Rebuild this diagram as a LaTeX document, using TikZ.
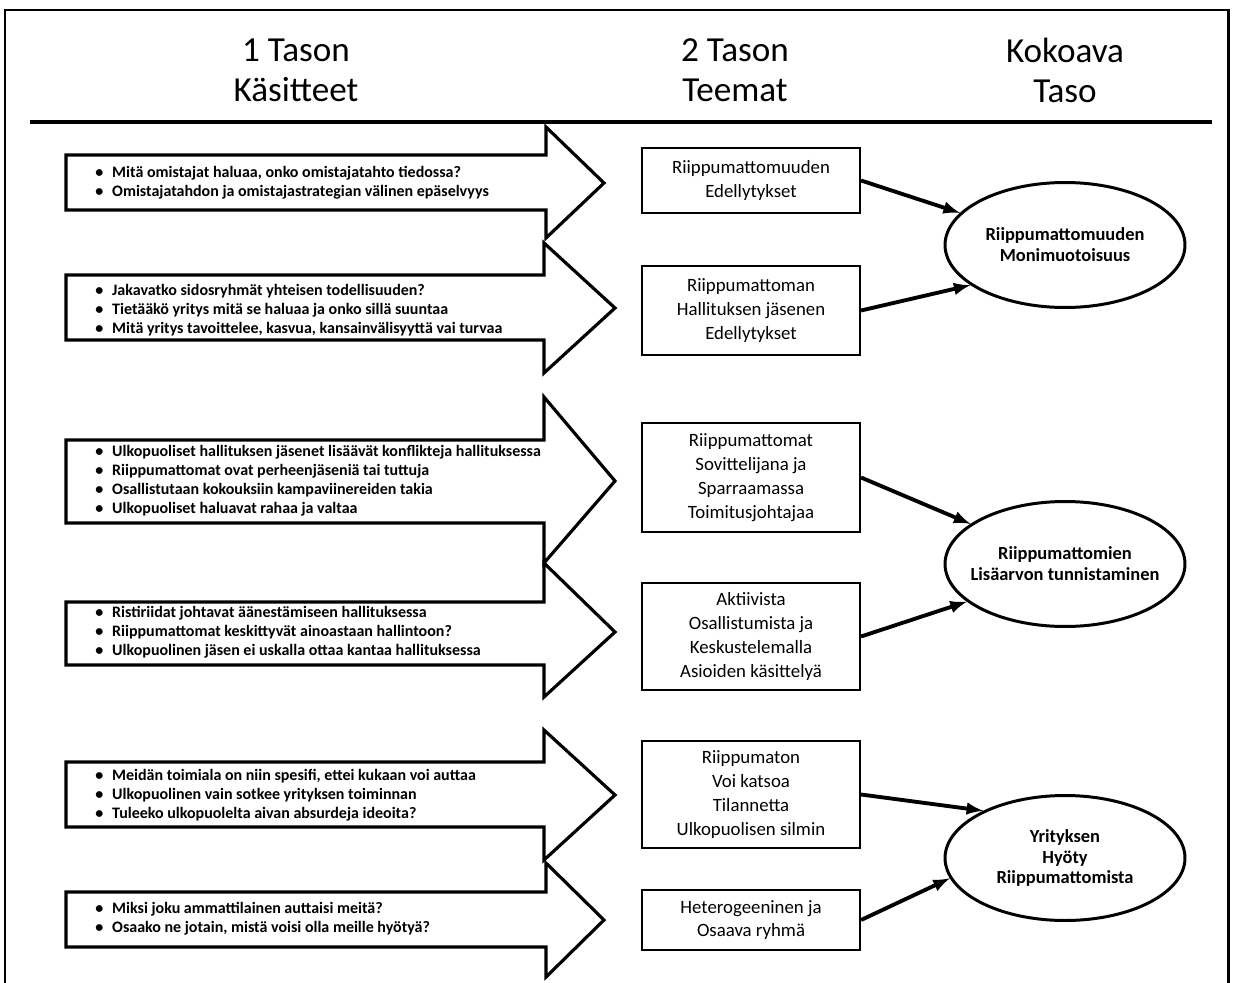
\documentclass[tikz,border=0pt]{standalone}
\usepackage{fontspec}
\setmainfont{Carlito}
\usetikzlibrary{shapes.geometric, positioning}
\newcommand{\itm}{\makebox[9.6pt][l]{\textbullet}}

\begin{document}
\begin{tikzpicture}[x=0.02cm, y=-0.02cm]

		% Setup the styles
		\tikzset{head style/.style={align=center, font=\fontsize{20}{22.7}\selectfont},
			list style/.style={anchor=west, inner sep=0pt, align=left,
				font=\bfseries\fontsize{9.1}{10.8}\selectfont},
			arrow style/.style={line width=1.8pt, line join=miter, fill=white},
			theme style/.style={draw, line width=1.2pt, minimum width=4.36cm,
				align=center, font=\fontsize{10.7}{13.6}\selectfont},
			main style/.style={ellipse, draw, line width=1.7pt, inner ysep=0pt, inner xsep=-8pt,
				minimum width=4.8cm, minimum height=2.5cm, align=center,
				font=\bfseries\fontsize{10.5}{11.9}\selectfont},
			link style/.style={->, >=latex, line width=2.2pt}}

		\useasboundingbox (0,0) rectangle (1233,983);

		% Frame and header rule
		\draw[line width=1.7pt] (5,983) -- (5,10) -- (1228,10) -- (1228,983);
		\draw[line width=2.3pt] (30,122) -- (1212,122);

		% Column titles
		\node[head style] (level1) at (296,70) {1 Tason\\Käsitteet};
		\node[head style] (level2) at (735,70) {2 Tason\\Teemat};
		\node[head style] (level3) at (1065,70) {Kokoava\\Taso};

		% Draw the block arrows
		\draw[arrow style] (66,155) -- (546,155) -- (546,127) -- (604,183) -- (546,238) -- (546,210) -- (66,210) -- cycle;
		\draw[arrow style] (66,275) -- (544,275) -- (544,243) -- (615,308) -- (544,373) -- (544,340) -- (66,340) -- cycle;
		\draw[arrow style] (66,440) -- (544,440) -- (544,397) -- (615,481) -- (544,563) -- (544,523) -- (66,523) -- cycle;
		\draw[arrow style] (66,602) -- (544,602) -- (544,563) -- (615,632) -- (544,697) -- (544,665) -- (66,665) -- cycle;
		\draw[arrow style] (66,762) -- (544,762) -- (544,730) -- (615,795) -- (544,860) -- (544,827) -- (66,827) -- cycle;
		\draw[arrow style] (66,892) -- (546,892) -- (546,863) -- (604,920) -- (546,977) -- (546,947) -- (66,947) -- cycle;

		% Concepts in the arrows
		\node[list style] (list1) at (95,183) {\itm Mitä omistajat haluaa, onko omistajatahto tiedossa?\\
			\itm Omistajatahdon ja omistajastrategian välinen epäselvyys};
		\node[list style] (list2) at (95,310) {\itm Jakavatko sidosryhmät yhteisen todellisuuden?\\
			\itm Tietääkö yritys mitä se haluaa ja onko sillä suuntaa\\
			\itm Mitä yritys tavoittelee, kasvua, kansainvälisyyttä vai turvaa};
		\node[list style] (list3) at (95,481) {\itm Ulkopuoliset hallituksen jäsenet lisäävät konflikteja hallituksessa\\
			\itm Riippumattomat ovat perheenjäseniä tai tuttuja\\
			\itm Osallistutaan kokouksiin kampaviinereiden takia\\
			\itm Ulkopuoliset haluavat rahaa ja valtaa};
		\node[list style] (list4) at (95,632) {\itm Ristiriidat johtavat äänestämiseen hallituksessa\\
			\itm Riippumattomat keskittyvät ainoastaan hallintoon?\\
			\itm Ulkopuolinen jäsen ei uskalla ottaa kantaa hallituksessa};
		\node[list style] (list5) at (95,795) {\itm Meidän toimiala on niin spesifi, ettei kukaan voi auttaa\\
			\itm Ulkopuolinen vain sotkee yrityksen toiminnan\\
			\itm Tuleeko ulkopuolelta aivan absurdeja ideoita?};
		\node[list style] (list6) at (95,919) {\itm Miksi joku ammattilainen auttaisi meitä?\\
			\itm Osaako ne jotain, mistä voisi olla meille hyötyä?};

		% Themes
		\node[theme style, minimum height=1.3cm] (edell) at (751,180.5) {Riippumattomuuden\\Edellytykset};
		\node[theme style, minimum height=1.78cm] (jasen) at (751,310.5) {Riippumattoman\\Hallituksen jäsenen\\Edellytykset};
		\node[theme style, minimum height=2.18cm] (sovit) at (751,477.5) {Riippumattomat\\Sovittelijana ja\\Sparraamassa\\Toimitusjohtajaa};
		\node[theme style, minimum height=2.14cm] (aktiiv) at (751,636.5) {Aktiivista\\Osallistumista ja\\Keskustelemalla\\Asioiden käsittelyä};
		\node[theme style, minimum height=2.14cm] (katsoa) at (751,794.5) {Riippumaton\\Voi katsoa\\Tilannetta\\Ulkopuolisen silmin};
		\node[theme style, minimum height=1.2cm] (hetero) at (751,920) {Heterogeeninen ja\\Osaava ryhmä};

		% Aggregate level
		\node[main style] (moni) at (1065,245) {Riippumattomuuden\\Monimuotoisuus};
		\node[main style] (lisa) at (1065,564) {Riippumattomien\\Lisäarvon tunnistaminen};
		\node[main style] (hyoty) at (1065,858) {Yrityksen\\Hyöty\\Riippumattomista};

		% Connect the themes
		\draw[link style] (edell.east) -- (moni.163);
		\draw[link style] (jasen.east) -- (moni.203);
		\draw[link style] (sovit.east) -- (lisa.157);
		\draw[link style] (aktiiv.east) -- (lisa.201);
		\draw[link style] (katsoa.east) -- (hyoty.150);
		\draw[link style] (hetero.east) -- (hyoty.190);
\end{tikzpicture}
\end{document}
